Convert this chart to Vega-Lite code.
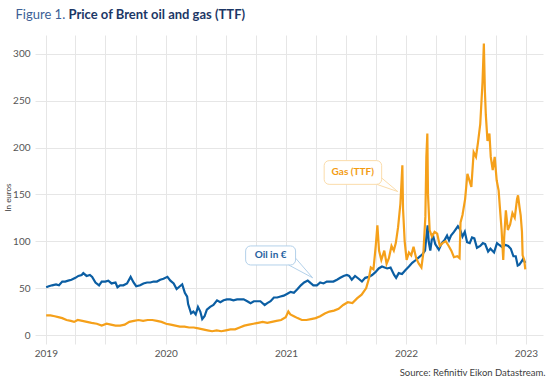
{
  "$schema": "https://vega.github.io/schema/vega-lite/v6.json",
  "width": 508,
  "height": 300,
  "autosize": {"type": "none"},
  "padding": {"left": 35, "top": 35, "right": 7, "bottom": 43},
  "background": "white",
  "config": {
    "view": {"stroke": null},
    "font": "Lato",
    "axis": {"labelFont": "Lato", "titleFont": "Lato", "gridColor": "#e6e6e6", "tickColor": "#e6e6e6", "domain": false, "labelColor": "#555555", "labelFontSize": 10}
  },
  "datasets": {
    "one": [{}],
    "prices": [
      {"date":"2019-01-02","series":"Oil in €","value":51},{"date":"2019-01-10","series":"Oil in €","value":52},{"date":"2019-01-20","series":"Oil in €","value":53},{"date":"2019-02-01","series":"Oil in €","value":54},{"date":"2019-02-10","series":"Oil in €","value":53},{"date":"2019-02-20","series":"Oil in €","value":57},{"date":"2019-03-01","series":"Oil in €","value":57},{"date":"2019-03-10","series":"Oil in €","value":58},{"date":"2019-03-20","series":"Oil in €","value":59},{"date":"2019-04-01","series":"Oil in €","value":61},{"date":"2019-04-10","series":"Oil in €","value":63},{"date":"2019-04-20","series":"Oil in €","value":64},{"date":"2019-04-25","series":"Oil in €","value":66},{"date":"2019-05-05","series":"Oil in €","value":63},{"date":"2019-05-15","series":"Oil in €","value":64},{"date":"2019-05-22","series":"Oil in €","value":62},{"date":"2019-06-01","series":"Oil in €","value":56},{"date":"2019-06-12","series":"Oil in €","value":53},{"date":"2019-06-20","series":"Oil in €","value":57},{"date":"2019-07-01","series":"Oil in €","value":57},{"date":"2019-07-10","series":"Oil in €","value":58},{"date":"2019-07-20","series":"Oil in €","value":55},{"date":"2019-08-01","series":"Oil in €","value":56},{"date":"2019-08-07","series":"Oil in €","value":51},{"date":"2019-08-15","series":"Oil in €","value":53},{"date":"2019-08-25","series":"Oil in €","value":53},{"date":"2019-09-05","series":"Oil in €","value":55},{"date":"2019-09-16","series":"Oil in €","value":62},{"date":"2019-09-25","series":"Oil in €","value":56},{"date":"2019-10-03","series":"Oil in €","value":52},{"date":"2019-10-15","series":"Oil in €","value":53},{"date":"2019-10-25","series":"Oil in €","value":55},{"date":"2019-11-05","series":"Oil in €","value":56},{"date":"2019-11-15","series":"Oil in €","value":56},{"date":"2019-11-25","series":"Oil in €","value":57},{"date":"2019-12-05","series":"Oil in €","value":57},{"date":"2019-12-15","series":"Oil in €","value":59},{"date":"2019-12-25","series":"Oil in €","value":60},{"date":"2020-01-06","series":"Oil in €","value":62},{"date":"2020-01-15","series":"Oil in €","value":58},{"date":"2020-01-25","series":"Oil in €","value":55},{"date":"2020-02-03","series":"Oil in €","value":49},{"date":"2020-02-13","series":"Oil in €","value":52},{"date":"2020-02-20","series":"Oil in €","value":54},{"date":"2020-02-28","series":"Oil in €","value":45},{"date":"2020-03-06","series":"Oil in €","value":41},{"date":"2020-03-09","series":"Oil in €","value":33},{"date":"2020-03-18","series":"Oil in €","value":23},{"date":"2020-03-25","series":"Oil in €","value":25},{"date":"2020-04-01","series":"Oil in €","value":22},{"date":"2020-04-08","series":"Oil in €","value":30},{"date":"2020-04-15","series":"Oil in €","value":25},{"date":"2020-04-21","series":"Oil in €","value":17},{"date":"2020-04-28","series":"Oil in €","value":20},{"date":"2020-05-05","series":"Oil in €","value":27},{"date":"2020-05-15","series":"Oil in €","value":30},{"date":"2020-05-25","series":"Oil in €","value":32},{"date":"2020-06-05","series":"Oil in €","value":37},{"date":"2020-06-15","series":"Oil in €","value":35},{"date":"2020-06-25","series":"Oil in €","value":37},{"date":"2020-07-05","series":"Oil in €","value":38},{"date":"2020-07-15","series":"Oil in €","value":38},{"date":"2020-07-25","series":"Oil in €","value":37},{"date":"2020-08-05","series":"Oil in €","value":38},{"date":"2020-08-15","series":"Oil in €","value":38},{"date":"2020-08-25","series":"Oil in €","value":38},{"date":"2020-09-05","series":"Oil in €","value":36},{"date":"2020-09-15","series":"Oil in €","value":34},{"date":"2020-09-25","series":"Oil in €","value":36},{"date":"2020-10-05","series":"Oil in €","value":36},{"date":"2020-10-15","series":"Oil in €","value":36},{"date":"2020-10-28","series":"Oil in €","value":32},{"date":"2020-11-05","series":"Oil in €","value":34},{"date":"2020-11-15","series":"Oil in €","value":36},{"date":"2020-11-25","series":"Oil in €","value":40},{"date":"2020-12-05","series":"Oil in €","value":40},{"date":"2020-12-15","series":"Oil in €","value":41},{"date":"2020-12-25","series":"Oil in €","value":42},{"date":"2021-01-05","series":"Oil in €","value":44},{"date":"2021-01-15","series":"Oil in €","value":46},{"date":"2021-01-25","series":"Oil in €","value":45},{"date":"2021-02-05","series":"Oil in €","value":49},{"date":"2021-02-15","series":"Oil in €","value":53},{"date":"2021-02-25","series":"Oil in €","value":56},{"date":"2021-03-08","series":"Oil in €","value":58},{"date":"2021-03-18","series":"Oil in €","value":55},{"date":"2021-03-25","series":"Oil in €","value":53},{"date":"2021-04-05","series":"Oil in €","value":53},{"date":"2021-04-15","series":"Oil in €","value":56},{"date":"2021-04-25","series":"Oil in €","value":55},{"date":"2021-05-05","series":"Oil in €","value":57},{"date":"2021-05-15","series":"Oil in €","value":57},{"date":"2021-05-25","series":"Oil in €","value":57},{"date":"2021-06-05","series":"Oil in €","value":59},{"date":"2021-06-15","series":"Oil in €","value":61},{"date":"2021-06-25","series":"Oil in €","value":63},{"date":"2021-07-05","series":"Oil in €","value":64},{"date":"2021-07-12","series":"Oil in €","value":63},{"date":"2021-07-20","series":"Oil in €","value":59},{"date":"2021-07-30","series":"Oil in €","value":63},{"date":"2021-08-10","series":"Oil in €","value":60},{"date":"2021-08-20","series":"Oil in €","value":57},{"date":"2021-08-30","series":"Oil in €","value":61},{"date":"2021-09-10","series":"Oil in €","value":62},{"date":"2021-09-20","series":"Oil in €","value":64},{"date":"2021-09-30","series":"Oil in €","value":67},{"date":"2021-10-10","series":"Oil in €","value":71},{"date":"2021-10-20","series":"Oil in €","value":73},{"date":"2021-10-28","series":"Oil in €","value":72},{"date":"2021-11-05","series":"Oil in €","value":71},{"date":"2021-11-15","series":"Oil in €","value":72},{"date":"2021-11-26","series":"Oil in €","value":64},{"date":"2021-12-02","series":"Oil in €","value":61},{"date":"2021-12-10","series":"Oil in €","value":66},{"date":"2021-12-20","series":"Oil in €","value":65},{"date":"2021-12-30","series":"Oil in €","value":69},{"date":"2022-01-10","series":"Oil in €","value":73},{"date":"2022-01-20","series":"Oil in €","value":77},{"date":"2022-01-31","series":"Oil in €","value":80},{"date":"2022-02-10","series":"Oil in €","value":83},{"date":"2022-02-20","series":"Oil in €","value":86},{"date":"2022-02-28","series":"Oil in €","value":90},{"date":"2022-03-04","series":"Oil in €","value":105},{"date":"2022-03-08","series":"Oil in €","value":117},{"date":"2022-03-11","series":"Oil in €","value":100},{"date":"2022-03-16","series":"Oil in €","value":90},{"date":"2022-03-23","series":"Oil in €","value":108},{"date":"2022-03-31","series":"Oil in €","value":97},{"date":"2022-04-11","series":"Oil in €","value":91},{"date":"2022-04-20","series":"Oil in €","value":98},{"date":"2022-04-28","series":"Oil in €","value":101},{"date":"2022-05-06","series":"Oil in €","value":106},{"date":"2022-05-12","series":"Oil in €","value":101},{"date":"2022-05-18","series":"Oil in €","value":106},{"date":"2022-05-27","series":"Oil in €","value":110},{"date":"2022-06-08","series":"Oil in €","value":116},{"date":"2022-06-14","series":"Oil in €","value":113},{"date":"2022-06-22","series":"Oil in €","value":105},{"date":"2022-06-29","series":"Oil in €","value":110},{"date":"2022-07-06","series":"Oil in €","value":99},{"date":"2022-07-14","series":"Oil in €","value":98},{"date":"2022-07-21","series":"Oil in €","value":104},{"date":"2022-07-28","series":"Oil in €","value":103},{"date":"2022-08-05","series":"Oil in €","value":93},{"date":"2022-08-15","series":"Oil in €","value":95},{"date":"2022-08-23","series":"Oil in €","value":98},{"date":"2022-08-30","series":"Oil in €","value":97},{"date":"2022-09-08","series":"Oil in €","value":89},{"date":"2022-09-15","series":"Oil in €","value":92},{"date":"2022-09-26","series":"Oil in €","value":88},{"date":"2022-10-05","series":"Oil in €","value":98},{"date":"2022-10-12","series":"Oil in €","value":96},{"date":"2022-10-20","series":"Oil in €","value":94},{"date":"2022-10-31","series":"Oil in €","value":96},{"date":"2022-11-08","series":"Oil in €","value":95},{"date":"2022-11-16","series":"Oil in €","value":92},{"date":"2022-11-24","series":"Oil in €","value":84},{"date":"2022-12-01","series":"Oil in €","value":84},{"date":"2022-12-07","series":"Oil in €","value":74},{"date":"2022-12-12","series":"Oil in €","value":75},{"date":"2022-12-20","series":"Oil in €","value":79},{"date":"2022-12-23","series":"Oil in €","value":81},{"date":"2022-12-30","series":"Oil in €","value":77},
      {"date":"2019-01-02","series":"Gas (TTF)","value":21},{"date":"2019-01-15","series":"Gas (TTF)","value":21},{"date":"2019-01-28","series":"Gas (TTF)","value":20},{"date":"2019-02-08","series":"Gas (TTF)","value":19},{"date":"2019-02-20","series":"Gas (TTF)","value":18},{"date":"2019-03-05","series":"Gas (TTF)","value":16},{"date":"2019-03-18","series":"Gas (TTF)","value":15},{"date":"2019-03-28","series":"Gas (TTF)","value":14},{"date":"2019-04-08","series":"Gas (TTF)","value":16},{"date":"2019-04-22","series":"Gas (TTF)","value":15},{"date":"2019-05-06","series":"Gas (TTF)","value":14},{"date":"2019-05-20","series":"Gas (TTF)","value":13},{"date":"2019-06-05","series":"Gas (TTF)","value":12},{"date":"2019-06-20","series":"Gas (TTF)","value":10},{"date":"2019-07-05","series":"Gas (TTF)","value":12},{"date":"2019-07-18","series":"Gas (TTF)","value":11},{"date":"2019-08-01","series":"Gas (TTF)","value":10},{"date":"2019-08-15","series":"Gas (TTF)","value":10},{"date":"2019-08-29","series":"Gas (TTF)","value":11},{"date":"2019-09-12","series":"Gas (TTF)","value":14},{"date":"2019-09-26","series":"Gas (TTF)","value":15},{"date":"2019-10-10","series":"Gas (TTF)","value":16},{"date":"2019-10-24","series":"Gas (TTF)","value":15},{"date":"2019-11-07","series":"Gas (TTF)","value":16},{"date":"2019-11-21","series":"Gas (TTF)","value":16},{"date":"2019-12-05","series":"Gas (TTF)","value":15},{"date":"2019-12-19","series":"Gas (TTF)","value":14},{"date":"2020-01-02","series":"Gas (TTF)","value":12},{"date":"2020-01-16","series":"Gas (TTF)","value":11},{"date":"2020-01-30","series":"Gas (TTF)","value":10},{"date":"2020-02-13","series":"Gas (TTF)","value":9},{"date":"2020-02-27","series":"Gas (TTF)","value":9},{"date":"2020-03-12","series":"Gas (TTF)","value":8},{"date":"2020-03-26","series":"Gas (TTF)","value":8},{"date":"2020-04-09","series":"Gas (TTF)","value":7},{"date":"2020-04-23","series":"Gas (TTF)","value":6},{"date":"2020-05-07","series":"Gas (TTF)","value":5},{"date":"2020-05-21","series":"Gas (TTF)","value":4},{"date":"2020-06-04","series":"Gas (TTF)","value":5},{"date":"2020-06-18","series":"Gas (TTF)","value":4},{"date":"2020-07-02","series":"Gas (TTF)","value":5},{"date":"2020-07-16","series":"Gas (TTF)","value":6},{"date":"2020-07-30","series":"Gas (TTF)","value":6},{"date":"2020-08-13","series":"Gas (TTF)","value":8},{"date":"2020-08-27","series":"Gas (TTF)","value":10},{"date":"2020-09-10","series":"Gas (TTF)","value":11},{"date":"2020-09-24","series":"Gas (TTF)","value":12},{"date":"2020-10-08","series":"Gas (TTF)","value":13},{"date":"2020-10-22","series":"Gas (TTF)","value":14},{"date":"2020-11-05","series":"Gas (TTF)","value":13},{"date":"2020-11-19","series":"Gas (TTF)","value":14},{"date":"2020-12-03","series":"Gas (TTF)","value":15},{"date":"2020-12-17","series":"Gas (TTF)","value":16},{"date":"2020-12-31","series":"Gas (TTF)","value":19},{"date":"2021-01-08","series":"Gas (TTF)","value":25},{"date":"2021-01-14","series":"Gas (TTF)","value":22},{"date":"2021-01-25","series":"Gas (TTF)","value":20},{"date":"2021-02-05","series":"Gas (TTF)","value":18},{"date":"2021-02-18","series":"Gas (TTF)","value":16},{"date":"2021-03-04","series":"Gas (TTF)","value":16},{"date":"2021-03-18","series":"Gas (TTF)","value":17},{"date":"2021-04-01","series":"Gas (TTF)","value":18},{"date":"2021-04-15","series":"Gas (TTF)","value":20},{"date":"2021-04-29","series":"Gas (TTF)","value":23},{"date":"2021-05-13","series":"Gas (TTF)","value":25},{"date":"2021-05-27","series":"Gas (TTF)","value":26},{"date":"2021-06-10","series":"Gas (TTF)","value":28},{"date":"2021-06-24","series":"Gas (TTF)","value":32},{"date":"2021-07-08","series":"Gas (TTF)","value":35},{"date":"2021-07-22","series":"Gas (TTF)","value":34},{"date":"2021-08-05","series":"Gas (TTF)","value":39},{"date":"2021-08-19","series":"Gas (TTF)","value":43},{"date":"2021-09-02","series":"Gas (TTF)","value":50},{"date":"2021-09-10","series":"Gas (TTF)","value":60},{"date":"2021-09-16","series":"Gas (TTF)","value":72},{"date":"2021-09-24","series":"Gas (TTF)","value":70},{"date":"2021-10-01","series":"Gas (TTF)","value":95},{"date":"2021-10-06","series":"Gas (TTF)","value":117},{"date":"2021-10-11","series":"Gas (TTF)","value":90},{"date":"2021-10-18","series":"Gas (TTF)","value":80},{"date":"2021-10-27","series":"Gas (TTF)","value":90},{"date":"2021-11-03","series":"Gas (TTF)","value":76},{"date":"2021-11-10","series":"Gas (TTF)","value":82},{"date":"2021-11-18","series":"Gas (TTF)","value":95},{"date":"2021-11-25","series":"Gas (TTF)","value":90},{"date":"2021-12-01","series":"Gas (TTF)","value":98},{"date":"2021-12-08","series":"Gas (TTF)","value":115},{"date":"2021-12-15","series":"Gas (TTF)","value":140},{"date":"2021-12-21","series":"Gas (TTF)","value":181},{"date":"2021-12-23","series":"Gas (TTF)","value":135},{"date":"2021-12-28","series":"Gas (TTF)","value":100},{"date":"2022-01-03","series":"Gas (TTF)","value":80},{"date":"2022-01-10","series":"Gas (TTF)","value":88},{"date":"2022-01-17","series":"Gas (TTF)","value":85},{"date":"2022-01-24","series":"Gas (TTF)","value":94},{"date":"2022-02-01","series":"Gas (TTF)","value":82},{"date":"2022-02-09","series":"Gas (TTF)","value":76},{"date":"2022-02-17","series":"Gas (TTF)","value":72},{"date":"2022-02-23","series":"Gas (TTF)","value":88},{"date":"2022-03-01","series":"Gas (TTF)","value":126},{"date":"2022-03-04","series":"Gas (TTF)","value":190},{"date":"2022-03-07","series":"Gas (TTF)","value":215},{"date":"2022-03-09","series":"Gas (TTF)","value":150},{"date":"2022-03-14","series":"Gas (TTF)","value":112},{"date":"2022-03-21","series":"Gas (TTF)","value":105},{"date":"2022-03-29","series":"Gas (TTF)","value":110},{"date":"2022-04-06","series":"Gas (TTF)","value":108},{"date":"2022-04-14","series":"Gas (TTF)","value":95},{"date":"2022-04-22","series":"Gas (TTF)","value":98},{"date":"2022-05-02","series":"Gas (TTF)","value":100},{"date":"2022-05-11","series":"Gas (TTF)","value":95},{"date":"2022-05-19","series":"Gas (TTF)","value":90},{"date":"2022-05-27","series":"Gas (TTF)","value":83},{"date":"2022-06-06","series":"Gas (TTF)","value":84},{"date":"2022-06-13","series":"Gas (TTF)","value":82},{"date":"2022-06-16","series":"Gas (TTF)","value":120},{"date":"2022-06-22","series":"Gas (TTF)","value":128},{"date":"2022-06-30","series":"Gas (TTF)","value":145},{"date":"2022-07-07","series":"Gas (TTF)","value":172},{"date":"2022-07-13","series":"Gas (TTF)","value":165},{"date":"2022-07-19","series":"Gas (TTF)","value":158},{"date":"2022-07-26","series":"Gas (TTF)","value":195},{"date":"2022-08-02","series":"Gas (TTF)","value":190},{"date":"2022-08-08","series":"Gas (TTF)","value":205},{"date":"2022-08-15","series":"Gas (TTF)","value":225},{"date":"2022-08-22","series":"Gas (TTF)","value":270},{"date":"2022-08-26","series":"Gas (TTF)","value":311},{"date":"2022-08-29","series":"Gas (TTF)","value":262},{"date":"2022-09-01","series":"Gas (TTF)","value":235},{"date":"2022-09-06","series":"Gas (TTF)","value":207},{"date":"2022-09-12","series":"Gas (TTF)","value":215},{"date":"2022-09-16","series":"Gas (TTF)","value":190},{"date":"2022-09-22","series":"Gas (TTF)","value":176},{"date":"2022-09-28","series":"Gas (TTF)","value":190},{"date":"2022-10-04","series":"Gas (TTF)","value":165},{"date":"2022-10-10","series":"Gas (TTF)","value":154},{"date":"2022-10-14","series":"Gas (TTF)","value":135},{"date":"2022-10-19","series":"Gas (TTF)","value":112},{"date":"2022-10-24","series":"Gas (TTF)","value":80},{"date":"2022-10-27","series":"Gas (TTF)","value":105},{"date":"2022-11-01","series":"Gas (TTF)","value":133},{"date":"2022-11-07","series":"Gas (TTF)","value":112},{"date":"2022-11-14","series":"Gas (TTF)","value":118},{"date":"2022-11-21","series":"Gas (TTF)","value":130},{"date":"2022-11-28","series":"Gas (TTF)","value":125},{"date":"2022-12-05","series":"Gas (TTF)","value":145},{"date":"2022-12-08","series":"Gas (TTF)","value":149},{"date":"2022-12-13","series":"Gas (TTF)","value":135},{"date":"2022-12-16","series":"Gas (TTF)","value":128},{"date":"2022-12-20","series":"Gas (TTF)","value":110},{"date":"2022-12-22","series":"Gas (TTF)","value":85},{"date":"2022-12-27","series":"Gas (TTF)","value":80},{"date":"2022-12-30","series":"Gas (TTF)","value":70}
    ]
  },
  "resolve": {"axis": {"x": "independent"}},
  "layer": [
    {
      "data": {"name": "prices"},
      "mark": {"type": "line", "strokeWidth": 2.2, "interpolate": "linear"},
      "encoding": {
        "x": {"field": "date", "type": "temporal",
          "scale": {"type": "utc", "domain": [{"year": 2018, "month": 11, "date": 29, "utc": true}, {"year": 2023, "month": 2, "date": 22, "utc": true}]},
          "axis": {"orient": "bottom", "grid": true, "ticks": true, "tickSize": 9, "labelPadding": 4,
            "values": [
              {"year":2019,"month":1,"date":1,"utc":true},{"year":2019,"month":4,"date":1,"utc":true},{"year":2019,"month":7,"date":1,"utc":true},{"year":2019,"month":10,"date":1,"utc":true},
              {"year":2020,"month":1,"date":1,"utc":true},{"year":2020,"month":4,"date":1,"utc":true},{"year":2020,"month":7,"date":1,"utc":true},{"year":2020,"month":10,"date":1,"utc":true},
              {"year":2021,"month":1,"date":1,"utc":true},{"year":2021,"month":4,"date":1,"utc":true},{"year":2021,"month":7,"date":1,"utc":true},{"year":2021,"month":10,"date":1,"utc":true},
              {"year":2022,"month":1,"date":1,"utc":true},{"year":2022,"month":4,"date":1,"utc":true},{"year":2022,"month":7,"date":1,"utc":true},{"year":2022,"month":10,"date":1,"utc":true},
              {"year":2023,"month":1,"date":1,"utc":true}
            ],
            "labelExpr": "utcmonth(datum.value) == 0 ? utcFormat(datum.value, '%Y') : ''",
            "labelOverlap": false,
            "title": "Source: Refinitiv Eikon Datastream.",
            "titleFontSize": 9.5, "titleFontWeight": "normal", "titleColor": "#404040",
            "titleX": 510, "titleY": 40, "titleAlign": "right", "titleBaseline": "alphabetic", "titleAnchor": null
          }
        },
        "y": {"field": "value", "type": "quantitative",
          "scale": {"domain": [0, 320], "nice": false},
          "axis": {"values": [0, 50, 100, 150, 200, 250, 300], "grid": true, "ticks": false, "labelPadding": 5,
            "title": "In euros", "titleFontSize": 8, "titleFontWeight": "normal", "titleColor": "#404040",
            "titleX": -27, "titleY": 162, "titleAngle": -90, "titleAlign": "center", "titleBaseline": "middle"}
        },
        "color": {"field": "series", "type": "nominal",
          "scale": {"domain": ["Oil in €", "Gas (TTF)"], "range": ["#0b5ea3", "#f5a01a"]},
          "legend": null},
        "order": {"field": "date"}
      }
    },
    {
      "data": {"name": "one"},
      "mark": {"type": "rect", "fill": "white", "stroke": "#b3d1ea", "strokeWidth": 1, "cornerRadius": 5},
      "encoding": {
        "x": {"datum": {"year": 2020, "month": 8, "date": 31, "utc": true}, "type": "temporal",
          "axis": {"orient": "top", "grid": false, "ticks": false, "labels": false, "domain": false,
            "title": "Figure 1.", "titleFontSize": 13, "titleFontWeight": "normal", "titleColor": "#3d5f96",
            "titleX": -20, "titleY": -17, "titleAlign": "left", "titleBaseline": "alphabetic", "titleAnchor": null}},
        "x2": {"datum": {"year": 2021, "month": 1, "date": 30, "utc": true}},
        "y": {"datum": 95, "type": "quantitative"},
        "y2": {"datum": 74.7}
      }
    },
    {
      "data": {"name": "one"},
      "mark": {"type": "rect", "fill": "white", "stroke": "#fbdcaa", "strokeWidth": 1, "cornerRadius": 5},
      "encoding": {
        "x": {"datum": {"year": 2021, "month": 4, "date": 27, "utc": true}, "type": "temporal",
          "axis": {"orient": "top", "grid": false, "ticks": false, "labels": false, "domain": false,
            "title": "Price of Brent oil and gas (TTF)", "titleFontSize": 13, "titleFontWeight": "bold", "titleColor": "#1c3766",
            "titleX": 33, "titleY": -17, "titleAlign": "left", "titleBaseline": "alphabetic", "titleAnchor": null}},
        "x2": {"datum": {"year": 2021, "month": 10, "date": 19, "utc": true}},
        "y": {"datum": 186, "type": "quantitative"},
        "y2": {"datum": 160.7}
      }
    },
    {
      "data": {"name": "one"},
      "mark": {"type": "rule", "stroke": "#b3d1ea", "strokeWidth": 1},
      "encoding": {
        "x": {"datum": {"year": 2021, "month": 1, "date": 30, "utc": true}, "type": "temporal", "axis": null},
        "y": {"datum": 82, "type": "quantitative"},
        "x2": {"datum": {"year": 2021, "month": 3, "date": 23, "utc": true}},
        "y2": {"datum": 61}
      }
    },
    {
      "data": {"name": "one"},
      "mark": {"type": "rule", "stroke": "#b3d1ea", "strokeWidth": 1},
      "encoding": {
        "x": {"datum": {"year": 2021, "month": 1, "date": 9, "utc": true}, "type": "temporal", "axis": null},
        "y": {"datum": 74.7, "type": "quantitative"},
        "x2": {"datum": {"year": 2021, "month": 3, "date": 23, "utc": true}},
        "y2": {"datum": 61}
      }
    },
    {
      "data": {"name": "one"},
      "mark": {"type": "rule", "stroke": "#fbdcaa", "strokeWidth": 1},
      "encoding": {
        "x": {"datum": {"year": 2021, "month": 10, "date": 19, "utc": true}, "type": "temporal", "axis": null},
        "y": {"datum": 167.5, "type": "quantitative"},
        "x2": {"datum": {"year": 2021, "month": 12, "date": 7, "utc": true}},
        "y2": {"datum": 153}
      }
    },
    {
      "data": {"name": "one"},
      "mark": {"type": "rule", "stroke": "#fbdcaa", "strokeWidth": 1},
      "encoding": {
        "x": {"datum": {"year": 2021, "month": 10, "date": 4, "utc": true}, "type": "temporal", "axis": null},
        "y": {"datum": 160.7, "type": "quantitative"},
        "x2": {"datum": {"year": 2021, "month": 12, "date": 7, "utc": true}},
        "y2": {"datum": 153}
      }
    },
    {
      "data": {"name": "one"},
      "mark": {"type": "text", "text": "Oil in €", "font": "Lato", "fontSize": 10, "fontWeight": "bold", "fill": "#1f5fa0", "align": "center", "baseline": "middle"},
      "encoding": {
        "x": {"datum": {"year": 2020, "month": 11, "date": 15, "utc": true}, "type": "temporal", "axis": null},
        "y": {"datum": 85, "type": "quantitative"}
      }
    },
    {
      "data": {"name": "one"},
      "mark": {"type": "text", "text": "Gas (TTF)", "font": "Lato", "fontSize": 10, "fontWeight": "bold", "fill": "#f39c12", "align": "center", "baseline": "middle"},
      "encoding": {
        "x": {"datum": {"year": 2021, "month": 7, "date": 23, "utc": true}, "type": "temporal", "axis": null},
        "y": {"datum": 174, "type": "quantitative"}
      }
    }
  ]
}
